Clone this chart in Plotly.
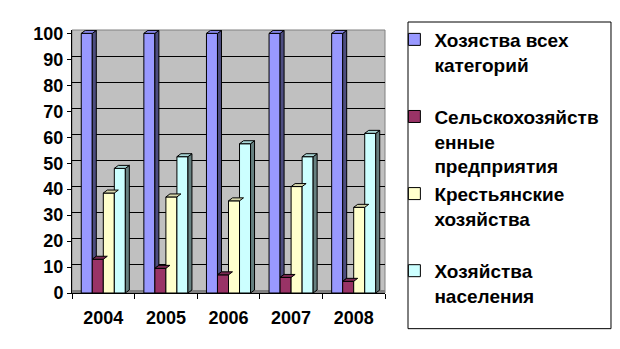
import plotly.graph_objects as go

years = ["2004", "2005", "2006", "2007", "2008"]
series_names = [
    "Хозяства всех<br>категорий<br>&nbsp;",
    "Сельскохозяйств<br>енные<br>предприятия",
    "Крестьянские<br>хозяйства<br>&nbsp;",
    "Хозяйства<br>населения",
]
all_categories = [100, 100, 100, 100, 100]
agri_enterprises = [13, 9.5, 7, 6, 4.5]
peasant_farms = [38.5, 37, 35.5, 41, 33]
households = [48, 52.5, 57.5, 52.5, 61.5]
y_ticks = [0, 10, 20, 30, 40, 50, 60, 70, 80, 90, 100]

values = [all_categories, agri_enterprises, peasant_farms, households]
front = ["#9999FF", "#993366", "#FFFFCC", "#CCFFFF"]
top_c = ["#8585E6", "#7A2952", "#D6D6AB", "#A8D6D6"]
side_c = ["#4D4D80", "#4D1A33", "#80806A", "#668080"]

W = 0.176      # bar width (category units)
DX = 0.064     # depth offset x
DY = 1.15      # depth offset y
xs = list(range(len(years)))

fig = go.Figure()
font = dict(family="Liberation Sans, Arial", size=18, color="black", weight="bold")

for i, (name, vals) in enumerate(zip(series_names, values)):
    fig.add_trace(go.Bar(
        x=xs, y=vals, name=name, width=W, offset=-2 * W + i * W,
        marker=dict(color=front[i], line=dict(color="black", width=1)),
    ))

# 3D faces derived from the data
for i, vals in enumerate(values):
    tx, ty, sx, sy = [], [], [], []
    for c, h in zip(xs, vals):
        x0 = c - 2 * W + i * W
        x1 = x0 + W
        tx += [x0, x0 + DX, x1 + DX, x1, x0, None]
        ty += [h, h + DY, h + DY, h, h, None]
        base = values[i + 1][c] if i + 1 < len(values) else 0
        if base < h:
            sx += [x1, x1, x1 + DX, x1 + DX, x1, None]
            sy += [base, h, h + DY, base + DY, base, None]
    fig.add_trace(go.Scatter(x=sx, y=sy, fill="toself", fillcolor=side_c[i], mode="lines",
                             line=dict(color="black", width=1), showlegend=False, hoverinfo="skip"))
    fig.add_trace(go.Scatter(x=tx, y=ty, fill="toself", fillcolor=top_c[i], mode="lines",
                             line=dict(color="black", width=1), showlegend=False, hoverinfo="skip"))

# invisible trace on back-wall axis to carry shifted gridlines
fig.add_trace(go.Scatter(x=[None], y=[None], yaxis="y2", showlegend=False, hoverinfo="skip"))

shapes = [
    # floor of the 3D box
    dict(type="rect", xref="paper", x0=0, x1=1, yref="y", y0=0, y1=DY,
         fillcolor="#808080", line=dict(width=0), layer="below"),
    # plot area frame (top/right gray)
    dict(type="rect", xref="paper", x0=0, x1=1, yref="paper", y0=0, y1=1,
         fillcolor="rgba(0,0,0,0)", line=dict(color="#808080", width=1), layer="below"),
    # legend frame
    dict(type="rect", xref="paper", x0=1.0735, x1=1.722, yref="paper", y0=-0.1356, y1=1.0304,
         fillcolor="white", line=dict(color="black", width=1), layer="below"),
]

fig.update_layout(
    width=620, height=349,
    margin=dict(l=72, r=235, t=30, b=56),
    paper_bgcolor="white",
    plot_bgcolor="#C0C0C0",
    barmode="overlay",
    showlegend=True,
    shapes=shapes,
    xaxis=dict(
        range=[-0.5, 4.5], tickmode="array", tickvals=xs, ticktext=years,
        ticks="", showgrid=False, zeroline=False, showline=True, linecolor="black",
        tickfont=font, ticklabelstandoff=8,
        minor=dict(tick0=-0.5, dtick=1, ticks="outside", ticklen=5, tickcolor="black", showgrid=False),
    ),
    yaxis=dict(
        range=[0, 101.3], tickmode="array", tickvals=y_ticks, ticks="outside", ticklen=4,
        tickcolor="black", showgrid=False, zeroline=False, showline=True, linecolor="black",
        tickfont=font,
    ),
    yaxis2=dict(
        overlaying="y", range=[-DY, 101.3 - DY], tickmode="array", tickvals=y_ticks[1:],
        showticklabels=False, showgrid=True, gridcolor="black", gridwidth=1, zeroline=False,
    ),
    legend=dict(
        x=1.03, y=1.036, xanchor="left", yanchor="top",
        bgcolor="rgba(0,0,0,0)", borderwidth=0,
        font=dict(family="Liberation Sans, Arial", size=19, color="black", weight="bold"),
        valign="top", tracegroupgap=0, itemwidth=30, maxheight=1,
    ),
)

fig.write_html("out.html")
